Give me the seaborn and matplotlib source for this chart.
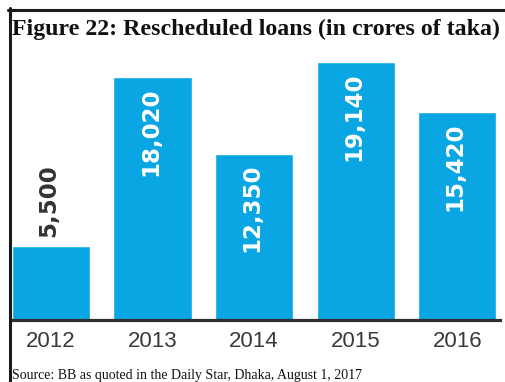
import matplotlib
matplotlib.use("Agg")
import matplotlib.pyplot as plt
from matplotlib.lines import Line2D
import seaborn as sns
import pandas as pd

# Rescheduled loans by year (crores of taka)
years = ["2012", "2013", "2014", "2015", "2016"]
loans = [5500, 18020, 12350, 19140, 15420]
value_labels = ["5,500", "18,020", "12,350", "19,140", "15,420"]

title_text = "Figure 22: Rescheduled loans (in crores of taka)"
source_text = "Source: BB as quoted in the Daily Star, Dhaka, August 1, 2017"

BAR_BLUE = "#0AA6E4"
DARK = "#2e2e2e"

sns.set_theme(style="white")
plt.rcParams["font.family"] = ["Liberation Sans", "DejaVu Sans"]

W, H = 505, 382
fig = plt.figure(figsize=(W / 100, H / 100), dpi=100)
fig.patch.set_facecolor("white")

# plot area in pixel terms
left_px, right_px = 11, 500
base_px, top_px = 320, 50.4
ax = fig.add_axes([left_px / W, (H - base_px) / H,
                   (right_px - left_px) / W, (base_px - top_px) / H])

df = pd.DataFrame({"year": years, "loans": loans})
sns.barplot(data=df, x="year", y="loans", color=BAR_BLUE, saturation=1,
            width=0.77, ax=ax)

ax.set_xlim(-0.394, 4.42)
ax.set_ylim(0, 20000)
ax.set_xlabel("")
ax.set_ylabel("")
ax.set_yticks([])
for side in ("left", "right", "top"):
    ax.spines[side].set_visible(False)
ax.spines["bottom"].set_color(DARK)
ax.spines["bottom"].set_linewidth(2.3)
ax.tick_params(axis="x", length=0, pad=8, labelsize=16, labelcolor="#3a3a3a")
ax.set_facecolor("white")

# value labels: inside the tall bars in white, above the short one in dark
for i, (v, lab) in enumerate(zip(loans, value_labels)):
    if v < 8000:
        ax.annotate(lab, xy=(i, v), xytext=(-1.5, 6.5), textcoords="offset points",
                    rotation=90, ha="center", va="bottom", fontsize=16.5,
                    fontweight="bold", color="#333333", family="DejaVu Sans")
    else:
        ax.annotate(lab, xy=(i, v), xytext=(-1.5, -7.5), textcoords="offset points",
                    rotation=90, ha="center", va="top", fontsize=16.5,
                    fontweight="bold", color="white", family="DejaVu Sans")

# frame lines along the top and left of the figure
fig.add_artist(Line2D([8 / W, 1], [1 - 9.5 / H, 1 - 9.5 / H],
                      transform=fig.transFigure, color="#1a1a1a", lw=2.2))
fig.add_artist(Line2D([9.5 / W, 9.5 / W], [0, 1 - 8 / H],
                      transform=fig.transFigure, color="#1a1a1a", lw=2.2))

# title, sized to span the frame width
title = fig.text(256 / W, 1 - 35 / H, title_text, ha="center", va="baseline",
                 fontsize=20, fontweight="bold", color="#111111",
                 family=["Liberation Serif", "DejaVu Serif"])
fig.canvas.draw()
tw = title.get_window_extent(fig.canvas.get_renderer()).width
title.set_fontsize(20 * 487 / tw)

fig.text(12 / W, 1 - 379 / H, source_text, ha="left", va="baseline",
         fontsize=10, color="#111111", family=["Liberation Serif", "DejaVu Serif"])

fig.savefig("out.png", dpi=100, facecolor="white")
